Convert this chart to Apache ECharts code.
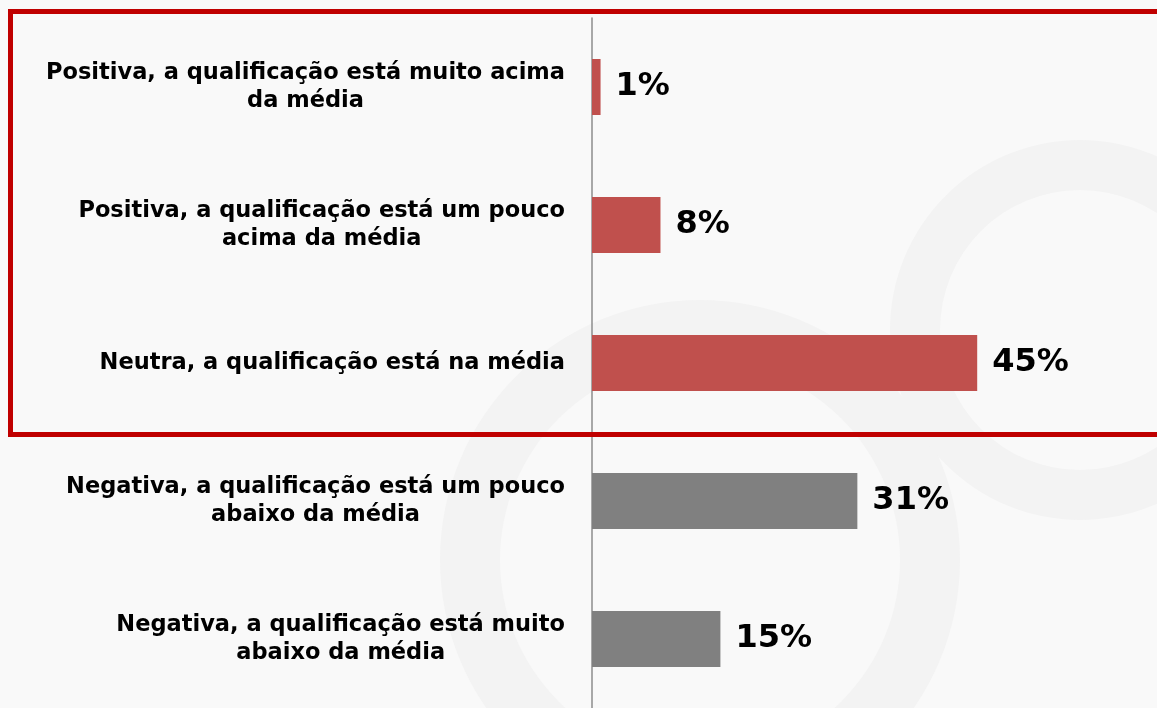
<!DOCTYPE html>
<html>
<head>
<meta charset="utf-8">
<script src="https://cdn.jsdelivr.net/npm/echarts@6/dist/echarts.min.js"></script>
<style>
html, body { margin: 0; padding: 0; background: #f9f9f9; }
#main { width: 1157px; height: 708px; }
</style>
</head>
<body>
<div id="main"></div>
<script>
// categorias e valores (%)
var categories = [
	'Positiva, a qualificação está muito acima\nda média',
	'Positiva, a qualificação está um pouco\nacima da média',
	'Neutra, a qualificação está na média',
	'Negativa, a qualificação está um pouco\nabaixo da média',
	'Negativa, a qualificação está muito\nabaixo da média'
];
var values = [1, 8, 45, 31, 15];
var barColors = ['#c0504d', '#c0504d', '#c0504d', '#808080', '#808080'];

var labelFont = 'DejaVu Sans';

var myChart = echarts.init(document.getElementById('main'));

var seriesData = [];
for (var i = 0; i < values.length; i++) {
	seriesData.push({
		value : values[i],
		itemStyle : { color : barColors[i] }
	});
}

var option = {
	backgroundColor : '#f9f9f9',
	animation : false,
	grid : {
		left : 592,
		top : 18,
		width : 428,
		height : 697
	},
	xAxis : {
		type : 'value',
		min : 0,
		max : 50,
		show : false
	},
	yAxis : {
		type : 'category',
		inverse : true,
		data : categories,
		axisTick : { show : false },
		axisLine : {
			show : true,
			lineStyle : { color : '#8c8c8c', width : 1.5 }
		},
		axisLabel : {
			margin : 27,
			formatter : function (v) {
				return v.split('\n').map(function (l) {
					return '{a|' + l + '}';
				}).join('\n');
			},
			rich : {
				a : {
					align : 'center',
					fontFamily : labelFont,
					fontWeight : 'bold',
					fontSize : 22.5,
					lineHeight : 28,
					color : '#000'
				}
			}
		}
	},
	series : [ {
		type : 'bar',
		data : seriesData,
		barWidth : 56,
		z : 5,
		label : {
			show : true,
			position : 'right',
			distance : 15,
			formatter : '{c}%',
			fontFamily : labelFont,
			fontWeight : 'bold',
			fontSize : 32,
			color : '#000'
		}
	} ],
	graphic : [
		// marca d'água suave no fundo
		{
			type : 'ring',
			shape : { cx : 700, cy : 560, r : 260, r0 : 200 },
			style : { fill : '#f3f3f3' },
			z : -10
		}, {
			type : 'ring',
			shape : { cx : 1080, cy : 330, r : 190, r0 : 140 },
			style : { fill : '#f3f3f3' },
			z : -10
		}, {
			type : 'rect',
			shape : { x : 10.5, y : 11.5, width : 1160, height : 423 },
			style : { fill : null, stroke : '#c00000', lineWidth : 5 },
			z : 100
		}
	]
};
myChart.setOption(option);
</script>
</body>
</html>
